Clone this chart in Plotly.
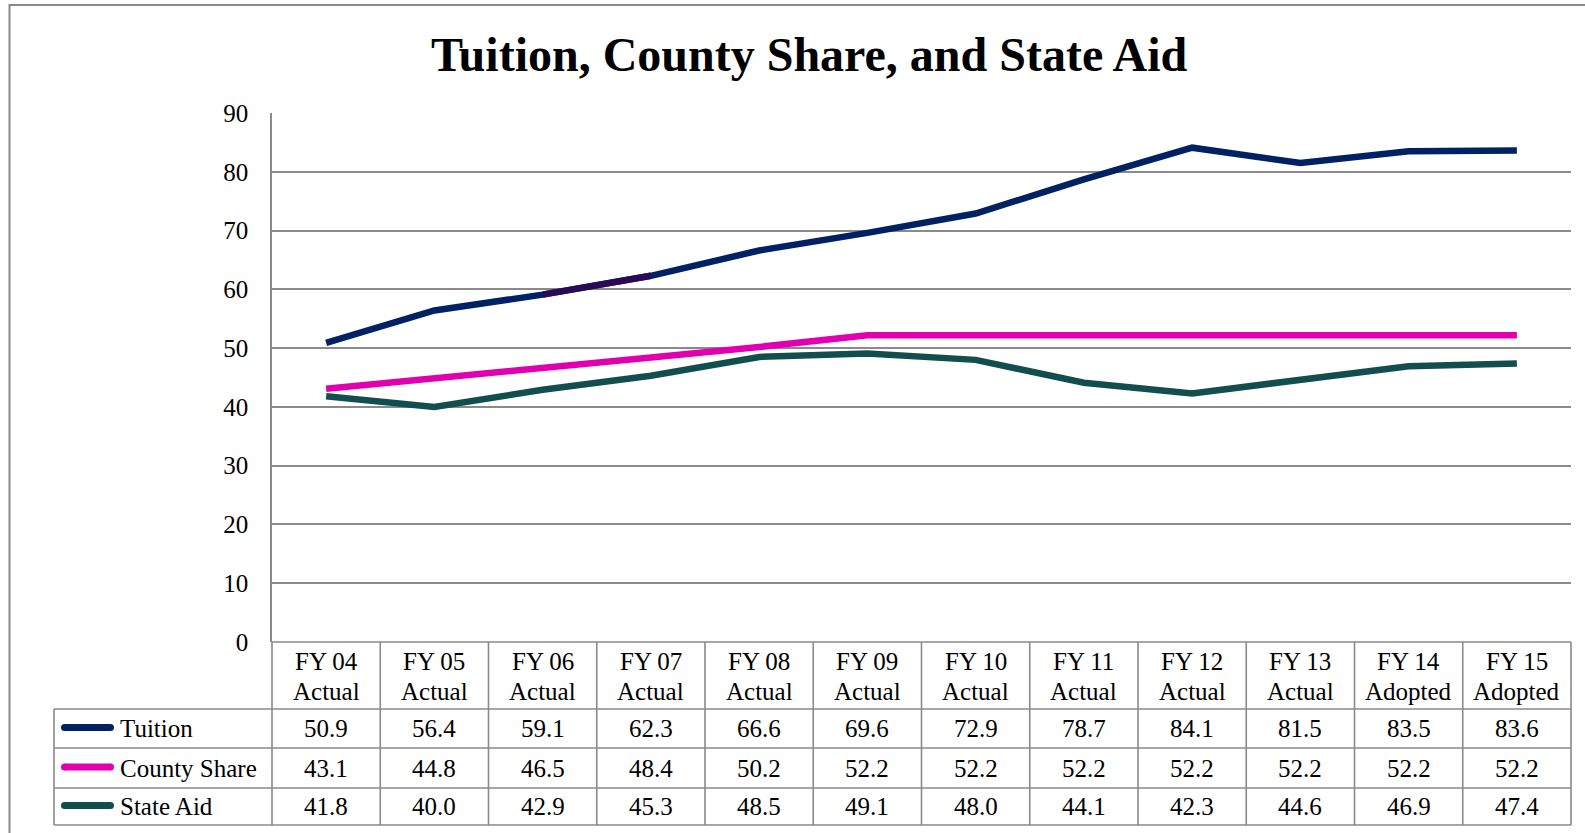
import plotly.graph_objects as go

# ---------------- data ----------------
fy_labels = ["FY 04", "FY 05", "FY 06", "FY 07", "FY 08", "FY 09",
             "FY 10", "FY 11", "FY 12", "FY 13", "FY 14", "FY 15"]
status_labels = ["Actual", "Actual", "Actual", "Actual", "Actual", "Actual",
                 "Actual", "Actual", "Actual", "Actual", "Adopted", "Adopted"]
tuition = [50.9, 56.4, 59.1, 62.3, 66.6, 69.6, 72.9, 78.7, 84.1, 81.5, 83.5, 83.6]
county_share = [43.1, 44.8, 46.5, 48.4, 50.2, 52.2, 52.2, 52.2, 52.2, 52.2, 52.2, 52.2]
state_aid = [41.8, 40.0, 42.9, 45.3, 48.5, 49.1, 48.0, 44.1, 42.3, 44.6, 46.9, 47.4]
series_names = ["Tuition", "County Share", "State Aid"]
y_ticks = [0, 10, 20, 30, 40, 50, 60, 70, 80, 90]

categories = [f"{a} {b}" for a, b in zip(fy_labels, status_labels)]
series_values = [tuition, county_share, state_aid]
colors = ["#002163", "#E000AF", "#134E4E"]

# ---------------- geometry helpers (pixel -> paper) ----------------
W, H = 1585, 833
def px(x):
    return x / W
def py(y):
    return 1 - y / H

PLOT_L, PLOT_R = 272, 1571
PLOT_T, PLOT_B = 113, 642
TABLE_L = 54
ROW_LINES = [709, 748, 788, 825]
GRID = "#8a8a8a"
FONT = "Liberation Serif, Times New Roman, serif"

fig = go.Figure()

for name, vals, col in zip(series_names, series_values, colors):
    fig.add_trace(go.Scatter(
        x=categories, y=vals, mode="lines", name=name,
        line=dict(color=col, width=6.5), showlegend=False, hoverinfo="x+y+name"))

# slightly different coloured segment FY 06 -> FY 07 on Tuition line
fig.add_trace(go.Scatter(
    x=categories[2:4], y=tuition[2:4], mode="lines",
    line=dict(color="#2A0A55", width=6.5), showlegend=False, hoverinfo="skip"))

shapes = []
line_style = dict(color=GRID, width=1.6)

# outer border (cropped at right/bottom)
shapes.append(dict(type="rect", xref="paper", yref="paper",
                   x0=px(9.5), x1=px(W + 20), y0=py(H + 20), y1=py(5),
                   line=dict(color=GRID, width=2)))

# table top (x axis line) and row lines
shapes.append(dict(type="line", xref="paper", yref="paper",
                   x0=px(PLOT_L), x1=px(PLOT_R), y0=py(PLOT_B), y1=py(PLOT_B), line=line_style))
for yl in ROW_LINES:
    shapes.append(dict(type="line", xref="paper", yref="paper",
                       x0=px(TABLE_L), x1=px(PLOT_R), y0=py(yl), y1=py(yl), line=line_style))
# vertical lines
shapes.append(dict(type="line", xref="paper", yref="paper",
                   x0=px(TABLE_L), x1=px(TABLE_L), y0=py(ROW_LINES[0]), y1=py(ROW_LINES[-1]),
                   line=line_style))
shapes.append(dict(type="line", xref="paper", yref="paper",
                   x0=px(PLOT_L), x1=px(PLOT_L), y0=py(PLOT_B), y1=py(ROW_LINES[-1]),
                   line=line_style))
shapes.append(dict(type="line", xref="paper", yref="paper",
                   x0=px(PLOT_R), x1=px(PLOT_R), y0=py(PLOT_B), y1=py(ROW_LINES[-1]),
                   line=line_style))
for i in range(1, len(categories)):
    shapes.append(dict(type="line", xref="x", yref="paper",
                       x0=i - 0.5, x1=i - 0.5, y0=py(PLOT_B), y1=py(ROW_LINES[-1]),
                       line=line_style))

annotations = []
# title
annotations.append(dict(text="<b>Tuition, County Share, and State Aid</b>",
                        xref="paper", yref="paper", x=px(809), y=py(54),
                        xanchor="center", yanchor="middle", showarrow=False,
                        font=dict(family=FONT, size=48, color="black")))

# header cells (two lines each)
for i, (a, b) in enumerate(zip(fy_labels, status_labels)):
    annotations.append(dict(text=a, xref="x", yref="paper",
                            x=i, y=py(661), xanchor="center", yanchor="middle",
                            showarrow=False, font=dict(family=FONT, size=25, color="black")))
    annotations.append(dict(text=b, xref="x", yref="paper",
                            x=i, y=py(691), xanchor="center", yanchor="middle",
                            showarrow=False, font=dict(family=FONT, size=25, color="black")))

# row cells
KEY_X0, KEY_X1, KEY_W = 61, 114, 7
for r, (name, vals, col) in enumerate(zip(series_names, series_values, colors)):
    yc = (ROW_LINES[r] + ROW_LINES[r + 1]) / 2
    ky = yc - 1
    rad = KEY_W / 2
    shapes.append(dict(type="line", xref="paper", yref="paper",
                       x0=px(KEY_X0 + rad), x1=px(KEY_X1 - rad), y0=py(ky), y1=py(ky),
                       line=dict(color=col, width=KEY_W)))
    for cx in (KEY_X0 + rad, KEY_X1 - rad):
        shapes.append(dict(type="circle", xref="paper", yref="paper",
                           x0=px(cx - rad), x1=px(cx + rad), y0=py(ky + rad), y1=py(ky - rad),
                           fillcolor=col, line=dict(width=0)))
    annotations.append(dict(text=name, xref="paper", yref="paper",
                            x=px(118), y=py(yc), xanchor="left", yanchor="middle",
                            showarrow=False, font=dict(family=FONT, size=25, color="black")))
    for i, v in enumerate(vals):
        annotations.append(dict(text=f"{v:.1f}", xref="x", yref="paper",
                                x=i, y=py(yc), xanchor="center", yanchor="middle",
                                showarrow=False, font=dict(family=FONT, size=25, color="black")))

fig.update_layout(
    width=W, height=H, autosize=False,
    margin=dict(l=0, r=0, t=0, b=0, pad=0, autoexpand=False),
    paper_bgcolor="white", plot_bgcolor="white",
    shapes=shapes, annotations=annotations,
    xaxis=dict(type="category", range=[-0.5, len(categories) - 0.5],
               domain=[px(PLOT_L), px(PLOT_R)], automargin=False,
               showticklabels=False, showgrid=False, zeroline=False, showline=False),
    yaxis=dict(range=[0, 90], domain=[py(PLOT_B), py(PLOT_T)], automargin=False,
               tickvals=y_ticks, ticktext=[str(t) for t in y_ticks],
               showgrid=True, gridcolor=GRID, gridwidth=1.6,
               zeroline=False, showline=True, linecolor=GRID, linewidth=1.6,
               ticks="", ticklabelstandoff=17,
               tickfont=dict(family=FONT, size=25, color="black")),
)

fig.write_html("out.html", config={"displayModeBar": False},
               post_script="document.body.style.margin='0';document.body.style.overflow='hidden';")
